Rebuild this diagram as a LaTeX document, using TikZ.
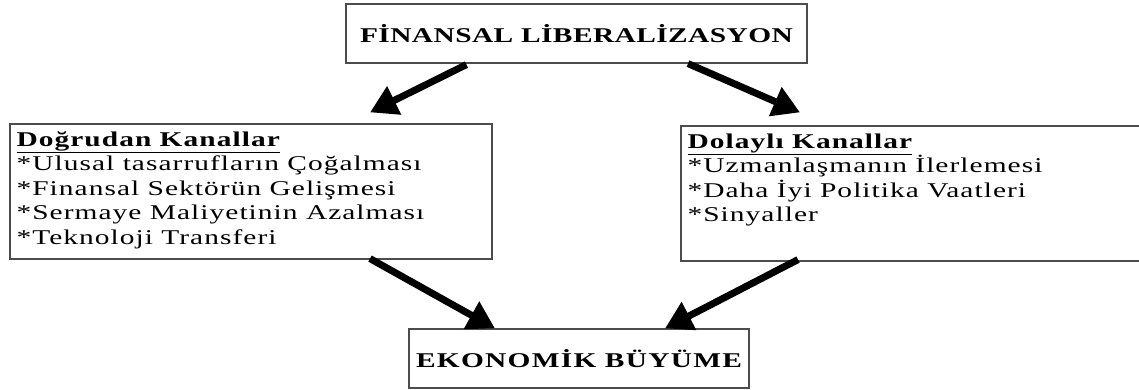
\documentclass[tikz,border=0pt]{standalone}
\usepackage{fontspec}
\setmainfont{Liberation Serif}
\newfontfamily\govdefont{Liberation Serif}[FakeStretch=1.4,LetterSpace=5]
\newfontfamily\ustfont{Liberation Serif}[FakeStretch=1.4,LetterSpace=2]
\newfontfamily\altfont{Liberation Serif}[FakeStretch=1.4,LetterSpace=6]
\usetikzlibrary{arrows.meta}
\begin{document}
\begin{tikzpicture}[x=1pt,y=-1pt,
  kutu/.style={draw=black!70, line width=1.2pt, fill=none, inner sep=0pt},
  baslik/.style={font=\ustfont\bfseries\fontsize{21}{23}\selectfont},
  liste/.style={anchor=north west, align=left, inner sep=0pt,
    font=\govdefont\fontsize{21}{24.5}\selectfont},
  ok/.style={line width=7pt, -{Triangle[length=27pt,width=30pt]}}]
\useasboundingbox (0,0) rectangle (1139,390);
\node [kutu, minimum width=461pt, minimum height=59pt] (finans) at (576.5,33.5) {};
\node [baslik] at (finans) {FİNANSAL LİBERALİZASYON};
\node [kutu, minimum width=482pt, minimum height=135pt] (dogrudan) at (251,191.5) {};
\node [liste] at ([xshift=7pt,yshift=-8pt]dogrudan.north west)
  {\textbf{\underline{Doğrudan Kanallar}}\\
   *Ulusal tasarrufların Çoğalması\\
   *Finansal Sektörün Gelişmesi\\
   *Sermaye Maliyetinin Azalması\\
   *Teknoloji Transferi};
\node [kutu, minimum width=469pt, minimum height=135pt] (dolayli) at (915.5,193.5) {};
\node [liste] at ([xshift=7pt,yshift=-8pt]dolayli.north west)
  {\textbf{\underline{Dolaylı Kanallar}}\\
   *Uzmanlaşmanın İlerlemesi\\
   *Daha İyi Politika Vaatleri\\
   *Sinyaller};
\node [kutu, minimum width=340pt, minimum height=59pt] (ekonomik) at (579,358.5) {};
\node [baslik, font=\altfont\bfseries\fontsize{21}{23}\selectfont] at (ekonomik) {EKONOMİK BÜYÜME};
% oklar
\draw [ok] ([xshift=-110pt,yshift=-1pt]finans.south) -- ([xshift=119pt,yshift=11pt]dogrudan.north);
\draw [ok] ([xshift=111.5pt]finans.south) -- ([xshift=-115.5pt,yshift=13pt]dolayli.north);
\draw [ok] ([xshift=119pt,yshift=1pt]dogrudan.south) -- ([xshift=-84pt]ekonomik.north);
\draw [ok] ([xshift=-117.5pt,yshift=2pt]dolayli.south) -- ([xshift=86pt]ekonomik.north);
\end{tikzpicture}
\end{document}
